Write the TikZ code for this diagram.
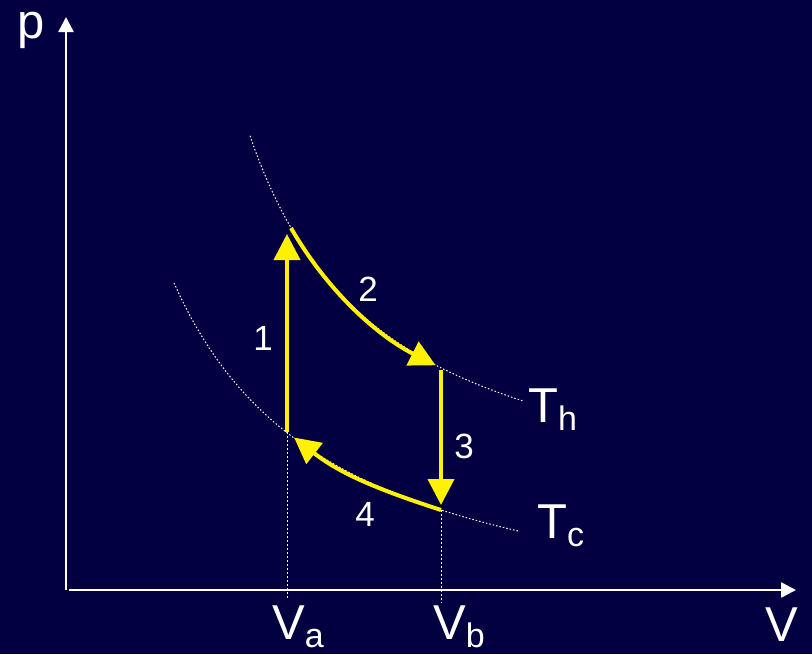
\documentclass[tikz,border=0pt]{standalone}
\usepackage{fontspec}
\setmainfont{Liberation Sans}
\usetikzlibrary{arrows.meta}
\definecolor{bgnavy}{RGB}{2,0,64}
\newcommand\lowsub[1]{\raisebox{-8pt}{\fontsize{34}{34}\selectfont #1}}

\begin{document}
\begin{tikzpicture}[
  x=1pt,y=-1pt,
  axis/.style={white,line width=2.5pt,-{Triangle[length=15pt,width=15pt]}},
  isotherm/.style={white,line width=1pt,dash pattern=on 1.5pt off 2pt},
  marker/.style={white,line width=1pt,dash pattern=on 2pt off 2pt},
  stroke/.style={yellow,line width=4pt,-{Triangle[length=26pt,width=26pt]}},
  lbl/.style={white,inner sep=0pt,font=\fontsize{49}{49}\selectfont},
  num/.style={white,inner sep=0pt,font=\fontsize{35}{35}\selectfont}
]
  \fill[bgnavy] (0,0) rectangle (812,654);
  \useasboundingbox (0,0) rectangle (812,654);

  \coordinate (origin) at (66,590);
  \coordinate (ptop) at (66,17);
  \coordinate (xstart) at (69,590);
  \coordinate (vend) at (796,590);
  \draw[axis] (origin) -- (ptop);
  \draw[axis] (xstart) -- (vend);

  \coordinate (A) at (287,432);
  \coordinate (B) at (291,228);
  \coordinate (C) at (441,368);
  \coordinate (D) at (441,510);
  \coordinate (abase) at (287,598);
  \coordinate (bbase) at (441,603);

  \draw[isotherm] plot[domain=250:524,samples=60] (\x,{533-540.15/((\x-114)/100)});
  \draw[isotherm] plot[domain=174:518,samples=60] (\x,{648-592.84/((\x-11.6)/100)});
  \draw[marker] (A) -- (abase);
  \draw[marker] (D) -- (bbase);

  \draw[stroke,shorten >=6pt] (A) -- (A |- B);
  \draw[stroke,shorten >=6pt] (B) to[out=-60,in=153,looseness=0.9] (C);
  \draw[stroke,shorten <=2pt,shorten >=5pt] (C) -- (D);
  \draw[stroke,shorten >=9pt] (D) to[out=162,in=-38] (A);

  \node[num] (n1) at (263,338) {1};
  \node[num] (n2) at (368,289) {2};
  \node[num] (n3) at (464,446) {3};
  \node[num] (n4) at (365,514) {4};

  \node[lbl,anchor=base] (plabel) at (31.5,38) {p};
  \node[lbl,anchor=base] (vlabel) at (782,641) {V};
  \node[lbl,anchor=base west] (valabel) at (272,639) {V\lowsub{a}};
  \node[lbl,anchor=base west] (vblabel) at (433,639) {V\lowsub{b}};
  \node[lbl,anchor=base west] (thlabel) at (528,422) {T\lowsub{h}};
  \node[lbl,anchor=base west] (tclabel) at (537,538) {T\lowsub{c}};
\end{tikzpicture}
\end{document}
